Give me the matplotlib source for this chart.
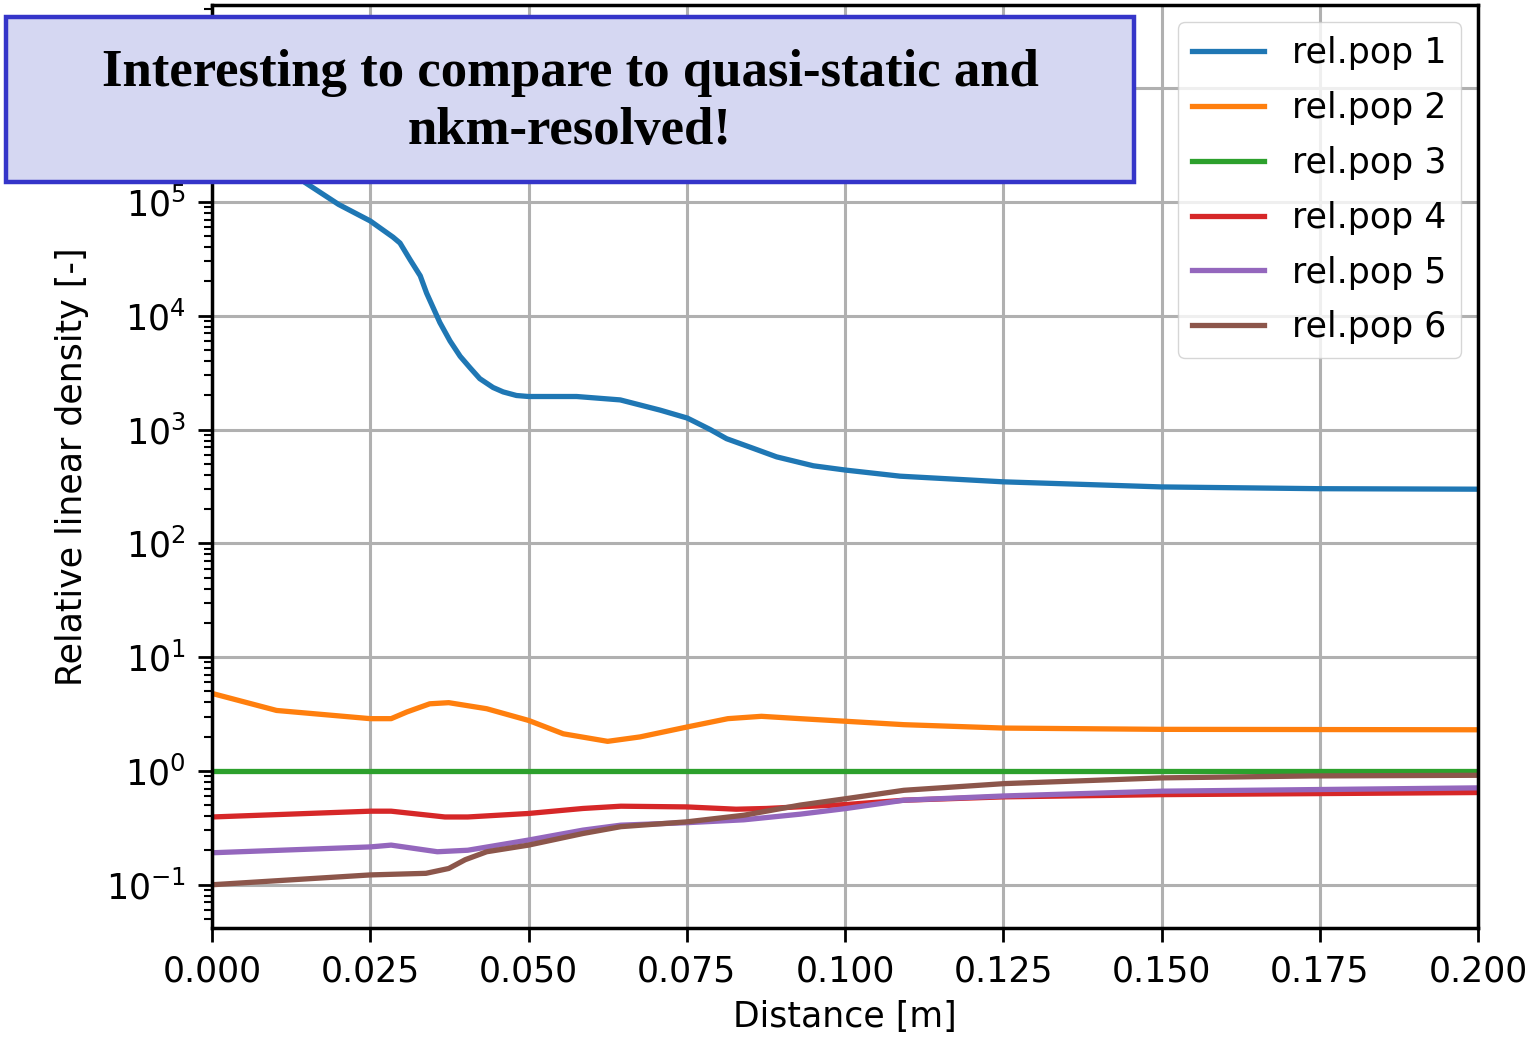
import matplotlib.pyplot as plt
from matplotlib.patches import Rectangle

# values (log y axis)
x_pop1 = [0.000, 0.004, 0.008, 0.0147, 0.020, 0.025, 0.0286, 0.0297, 0.0313, 0.0329,
          0.0339, 0.036, 0.0376, 0.0392, 0.0408, 0.0423, 0.0444, 0.046, 0.0481, 0.050,
          0.0576, 0.0645, 0.0708, 0.0751, 0.0787, 0.0813, 0.0853, 0.0892, 0.095, 0.1001,
          0.1087, 0.125, 0.150, 0.175, 0.200]
pop1 = [1.0e6, 5.6e5, 3.2e5, 1.48e5, 9.5e4, 6.8e4, 4.9e4, 4.35e4, 3.1e4, 2.24e4,
        1.58e4, 8.7e3, 6.0e3, 4.4e3, 3.47e3, 2.8e3, 2.34e3, 2.14e3, 1.99e3, 1.95e3,
        1.95e3, 1.82e3, 1.48e3, 1.26e3, 1.0e3, 830, 690, 575, 480, 440,
        389, 347, 313, 302, 299]

x_pop2 = [0.000, 0.0102, 0.025, 0.0283, 0.0308, 0.0344, 0.0374, 0.0434, 0.050, 0.0555,
          0.0625, 0.0676, 0.075, 0.0815, 0.0868, 0.0929, 0.1002, 0.1093, 0.1252, 0.150,
          0.175, 0.200]
pop2 = [4.8, 3.40, 2.88, 2.88, 3.30, 3.89, 3.98, 3.52, 2.78, 2.12,
        1.82, 1.99, 2.43, 2.88, 3.02, 2.88, 2.73, 2.55, 2.38, 2.32,
        2.31, 2.30]

x_pop3 = [0.000, 0.200]
pop3 = [1.0, 1.0]

x_pop4 = [0.000, 0.025, 0.0283, 0.0368, 0.0404, 0.050, 0.0586, 0.0646, 0.075, 0.0828,
          0.0876, 0.1002, 0.1093, 0.1252, 0.150, 0.200]
pop4 = [0.394, 0.443, 0.443, 0.394, 0.394, 0.423, 0.468, 0.490, 0.483, 0.461,
        0.468, 0.507, 0.553, 0.592, 0.619, 0.646]

x_pop5 = [0.000, 0.025, 0.0283, 0.0356, 0.0404, 0.050, 0.0586, 0.0646, 0.075, 0.084,
          0.0929, 0.1002, 0.1093, 0.1252, 0.150, 0.200]
pop5 = [0.191, 0.215, 0.223, 0.195, 0.201, 0.247, 0.302, 0.334, 0.351, 0.372,
        0.417, 0.468, 0.553, 0.603, 0.664, 0.710]

x_pop6 = [0.000, 0.025, 0.0338, 0.0374, 0.040, 0.0434, 0.050, 0.0586, 0.0646, 0.075,
          0.084, 0.0929, 0.1002, 0.1093, 0.1252, 0.150, 0.1738, 0.200]
pop6 = [0.100, 0.122, 0.126, 0.139, 0.166, 0.195, 0.223, 0.282, 0.324, 0.357,
        0.408, 0.501, 0.571, 0.676, 0.774, 0.869, 0.904, 0.916]

series = [(x_pop1, pop1), (x_pop2, pop2), (x_pop3, pop3),
          (x_pop4, pop4), (x_pop5, pop5), (x_pop6, pop6)]
labels = ['rel.pop 1', 'rel.pop 2', 'rel.pop 3', 'rel.pop 4', 'rel.pop 5', 'rel.pop 6']
xticks = [0.000, 0.025, 0.050, 0.075, 0.100, 0.125, 0.150, 0.175, 0.200]

note = 'Interesting to compare to quasi-static and\nnkm-resolved!'

fs = 25
fig = plt.figure(figsize=(15.34, 10.38), dpi=100)
ax = fig.add_axes([212 / 1534, 1 - 928 / 1038, 1266 / 1534, 923 / 1038])

for (xs, ys), lab in zip(series, labels):
    ax.plot(xs, ys, lw=3.8, label=lab, solid_joinstyle='round')

ax.set_yscale('log')
ax.set_xlim(0, 0.2)
ax.set_ylim(10 ** -1.38, 10 ** 6.73)
ax.set_xticks(xticks)
ax.set_xticklabels(['%.3f' % t for t in xticks])
ax.grid(True, which='major', color='#b0b0b0', lw=2.2)
ax.tick_params(which='major', labelsize=fs, length=10, width=2, pad=9)
ax.tick_params(which='minor', length=5.5, width=1.5)
for s in ax.spines.values():
    s.set_linewidth(2.5)

ax.set_xlabel('Distance [m]', fontsize=fs, labelpad=8)
ax.set_ylabel('Relative linear density [-]', fontsize=fs, labelpad=12)

ax.legend(loc='upper right', fontsize=fs, labelspacing=0.6, handlelength=2.1)

# overlay note box
fig.patches.append(Rectangle((6 / 1534, 1 - 182 / 1038), 1128 / 1534, 165 / 1038,
                             transform=fig.transFigure, facecolor='#d5d7f2',
                             edgecolor='#3535c9', lw=3.2, zorder=10))
fig.text(570 / 1534, 1 - 102 / 1038, note, ha='center', va='center',
         family='Liberation Serif', weight='bold', fontsize=38, linespacing=1.27,
         zorder=11)

fig.savefig('out.png', dpi=100)
